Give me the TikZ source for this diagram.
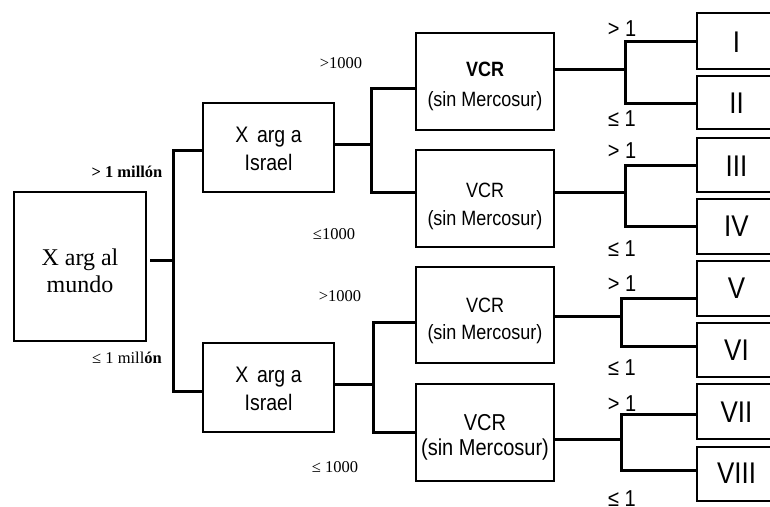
\documentclass[tikz,border=0pt]{standalone}
\usepackage{fontspec}
\usepackage{graphicx}
\setmainfont{Liberation Serif}
\newfontfamily\arialf{Liberation Sans}
% #1: vertical shift of the text baseline, #2: lines
\newcommand\stk[2]{\raisebox{#1}[0pt][0pt]{\scalebox{1}[1.15]{\begin{tabular}[b]{@{}c@{}}#2\end{tabular}}}}
\newcommand\plainstk[2]{\raisebox{#1}[0pt][0pt]{\begin{tabular}[b]{@{}c@{}}#2\end{tabular}}}
\begin{document}
\begin{tikzpicture}[x=1pt,y=-1pt,
  box/.style={draw,line width=2.9pt,rectangle,inner sep=0pt,align=center},
  conn/.style={line width=3pt},
  serlab/.style={font=\fontsize{16.5}{18}\selectfont,inner sep=0pt},
  sanlab/.style={font=\arialf\fontsize{20}{22}\selectfont,inner sep=0pt},
  leaf/.style={box,minimum width=79pt,font=\arialf\fontsize{26}{30}\selectfont}]
\useasboundingbox (0,0) rectangle (770,506);
\clip (0,0) rectangle (770,506);
% boxes
\node[box,minimum width=132pt,minimum height=149pt,font=\fontsize{24}{27}\selectfont] (main) at (80,266.5) {\plainstk{-26pt}{X arg al\\mundo}};
\node[box,minimum width=131pt,minimum height=89pt,font=\arialf\fontsize{19.5}{23.5}\selectfont] (isr1) at (268.5,147.5) {\stk{-22.5pt}{X\hspace{0.45em}arg a\\Israel}};
\node[box,minimum width=131pt,minimum height=89pt,font=\arialf\fontsize{19.5}{23.5}\selectfont] (isr2) at (268.5,387.5) {\stk{-22.5pt}{X\hspace{0.45em}arg a\\Israel}};
\node[box,minimum width=138pt,minimum height=97pt,font=\arialf\fontsize{18}{26}\selectfont] (vcr1) at (485,81.5) {\stk{-24.9pt}{\textbf{VCR}\\(sin Mercosur)}};
\node[box,minimum width=138pt,minimum height=97pt,font=\arialf\fontsize{18}{25}\selectfont] (vcr2) at (485,198.5) {\stk{-27.3pt}{VCR\\(sin Mercosur)}};
\node[box,minimum width=138pt,minimum height=96pt,font=\arialf\fontsize{18}{23.5}\selectfont] (vcr3) at (485,315) {\stk{-24.4pt}{VCR\\(sin Mercosur)}};
\node[box,minimum width=138pt,minimum height=97pt,font=\arialf\fontsize{20}{22}\selectfont] (vcr4) at (485,432.5) {\stk{-22.9pt}{VCR\\(sin Mercosur)}};
\node[leaf,minimum height=56pt] (l1) at (736.5,41) {\stk{-11.7pt}{I}};
\node[leaf,minimum height=53pt] (l2) at (736.5,102.5) {\stk{-10.7pt}{II}};
\node[leaf,minimum height=54pt] (l3) at (736.5,165) {\stk{-11.2pt}{III}};
\node[leaf,minimum height=55pt] (l4) at (736.5,226.5) {\stk{-10.2pt}{IV}};
\node[leaf,minimum height=55pt] (l5) at (736.5,288.5) {\stk{-10.2pt}{V}};
\node[leaf,minimum height=54pt] (l6) at (736.5,350) {\stk{-10.7pt}{VI}};
\node[leaf,minimum height=55pt] (l7) at (736.5,411.5) {\stk{-10.7pt}{VII}};
\node[leaf,minimum height=54pt] (l8) at (736.5,474) {\stk{-9.7pt}{VIII}};
% junction coordinates
\coordinate (a0) at (173,260); \coordinate (a1) at (173,150); \coordinate (a2) at (173,391);
\coordinate (b0) at (371,144); \coordinate (b1) at (371,88);  \coordinate (b2) at (371,192);
\coordinate (c0) at (373,384); \coordinate (c1) at (373,322); \coordinate (c2) at (373,432);
\coordinate (d0) at (625,69);  \coordinate (d1) at (625,41);  \coordinate (d2) at (625,103);
\coordinate (e0) at (625,192); \coordinate (e1) at (625,165); \coordinate (e2) at (625,226);
\coordinate (f0) at (621,316); \coordinate (f1) at (621,298); \coordinate (f2) at (621,346);
\coordinate (g0) at (621,439); \coordinate (g1) at (621,414); \coordinate (g2) at (621,470);
% connectors
\draw[conn] ([xshift=3pt]main.east |- a0) -- (a0);
\draw[conn] (isr1.west |- a1) -- (a1) -- (a2) -- (isr2.west |- a2);
\draw[conn] (isr1.east |- b0) -- (b0);
\draw[conn] (vcr1.west |- b1) -- (b1) -- (b2) -- (vcr2.west |- b2);
\draw[conn] (isr2.east |- c0) -- (c0);
\draw[conn] (vcr3.west |- c1) -- (c1) -- (c2) -- (vcr4.west |- c2);
\draw[conn] (vcr1.east |- d0) -- (d0);
\draw[conn] (l1.west |- d1) -- (d1) -- (d2) -- (l2.west |- d2);
\draw[conn] (vcr2.east |- e0) -- (e0);
\draw[conn] (l3.west |- e1) -- (e1) -- (e2) -- (l4.west |- e2);
\draw[conn] (vcr3.east |- f0) -- (f0);
\draw[conn] (l5.west |- f1) -- (f1) -- (f2) -- (l6.west |- f2);
\draw[conn] (vcr4.east |- g0) -- (g0);
\draw[conn] (l7.west |- g1) -- (g1) -- (g2) -- (l8.west |- g2);
% serif labels
\node[serlab] (m1) at (127,172) {\textbf{> 1 millón}};
\node[serlab] (m2) at (127,358) {≤ 1 mill\textbf{ón}};
\node[serlab] (k1) at (341,63) {>1000};
\node[serlab] (k2) at (334,234) {≤1000};
\node[serlab] (k3) at (340,296) {>1000};
\node[serlab] (k4) at (335,467) {≤ 1000};
% sans labels
\node[sanlab] (p1) at (622,28) {\stk{-8.2pt}{> 1}};
\node[sanlab] (q1) at (622,118) {\stk{-8.2pt}{≤ 1}};
\node[sanlab] (p2) at (622,150) {\stk{-8.2pt}{> 1}};
\node[sanlab] (q2) at (622,248) {\stk{-8.2pt}{≤ 1}};
\node[sanlab] (p3) at (622,283) {\stk{-8.2pt}{> 1}};
\node[sanlab] (q3) at (622,367) {\stk{-8.2pt}{≤ 1}};
\node[sanlab] (p4) at (622,403) {\stk{-8.2pt}{> 1}};
\node[sanlab] (q4) at (622,498) {\stk{-8.2pt}{≤ 1}};
\end{tikzpicture}
\end{document}
